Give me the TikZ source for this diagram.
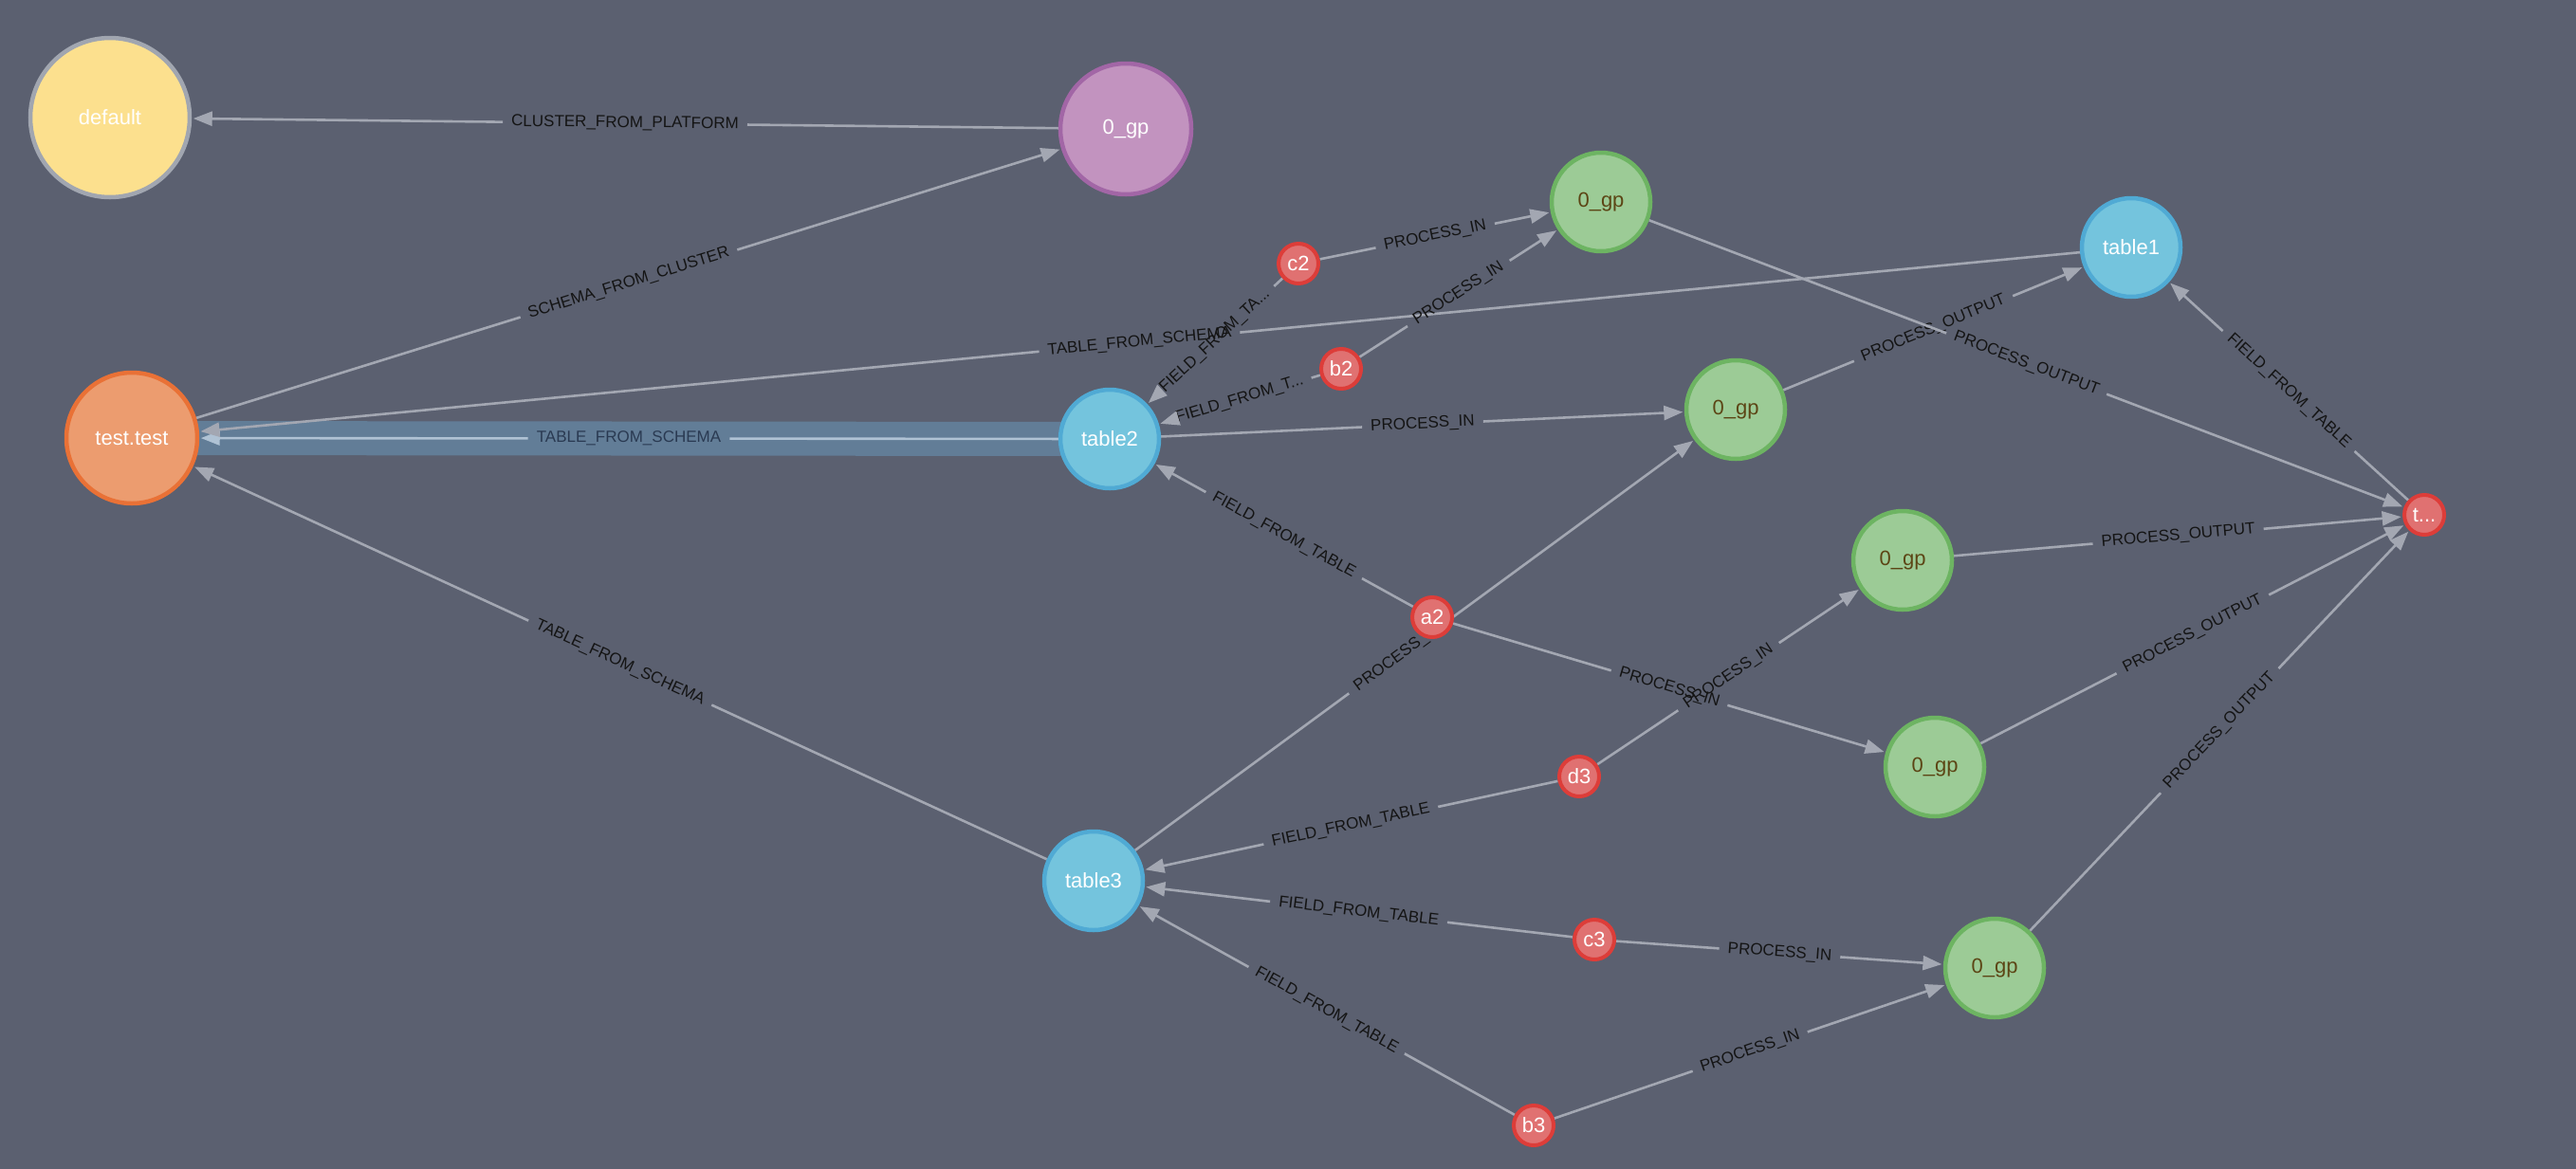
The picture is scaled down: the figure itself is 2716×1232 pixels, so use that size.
\documentclass[tikz,border=0pt]{standalone}
\usepackage{fontspec}
\setmainfont{Liberation Sans}
\usetikzlibrary{arrows.meta,calc}
\definecolor{bgc}{HTML}{5B6070}
\definecolor{edgec}{HTML}{A3A7B2}
\definecolor{lblc}{HTML}{141414}
\definecolor{defFill}{HTML}{FCE08E}
\definecolor{defDraw}{HTML}{A1A6B0}
\definecolor{clFill}{HTML}{C293BF}
\definecolor{clDraw}{HTML}{A266A6}
\definecolor{scFill}{HTML}{EC9C6F}
\definecolor{scDraw}{HTML}{E97136}
\definecolor{tbFill}{HTML}{74C4DD}
\definecolor{tbDraw}{HTML}{50AAD4}
\definecolor{prFill}{HTML}{9CCB96}
\definecolor{prDraw}{HTML}{6DB462}
\definecolor{prText}{HTML}{5C4515}
\definecolor{fdFill}{HTML}{E07171}
\definecolor{fdDraw}{HTML}{DD3D39}
\definecolor{hlBand}{HTML}{627D97}
\definecolor{hlLine}{HTML}{AFC2D4}
\definecolor{hlText}{HTML}{2A3A52}
\pgfdeclarelayer{bglayer}
\pgfdeclarelayer{edgelayer}
\pgfsetlayers{bglayer,edgelayer,main}
\tikzset{
  gnode/.style={circle, inner sep=0pt, line width=4.5pt, font=\fontsize{22}{24}\selectfont, text=white},
  defnode/.style={gnode, fill=defFill, draw=defDraw, minimum size=168pt},
  clnode/.style={gnode, fill=clFill, draw=clDraw, minimum size=138pt},
  scnode/.style={gnode, fill=scFill, draw=scDraw, minimum size=138pt},
  tbnode/.style={gnode, fill=tbFill, draw=tbDraw, minimum size=104pt},
  prnode/.style={gnode, fill=prFill, draw=prDraw, minimum size=104pt, text=prText},
  fdnode/.style={gnode, fill=fdFill, draw=fdDraw, minimum size=42pt, line width=4pt},
  elabel/.style={sloped, inner xsep=9pt, inner ysep=2pt, font=\fontsize{17}{19}\selectfont, text=lblc},
  eline/.style={draw=edgec, line width=2.6pt},
  etip/.style={-{Triangle[length=20pt,width=15pt]}, shorten >=1.5pt},
}
\newcommand\conn[5][0.5]{%
  \path (#2) -- node[elabel, pos=#1, name=#4] {#5} (#3);
  \draw[eline] (#2) -- (#4);
  \draw[eline, etip] (#4) -- (#3);
}
\begin{document}
\begin{tikzpicture}[x=1pt, y=-1pt]
\useasboundingbox (0,0) rectangle (2716,1232);
\begin{pgfonlayer}{bglayer}
  \fill[bgc] (-10,-10) rectangle (2726,1242);
\end{pgfonlayer}

% nodes
\node[defnode] (default) at (116,124) {default};
\node[clnode] (clus) at (1187,136) {0\_gp};
\node[scnode] (schema) at (139,462) {test.test};
\node[tbnode] (tbl1) at (2247,261) {table1};
\node[tbnode] (tbl2) at (1170,463) {table2};
\node[tbnode] (tbl3) at (1153,929) {table3};
\node[prnode] (p1) at (1688,213) {0\_gp};
\node[prnode] (p2) at (1830,432) {0\_gp};
\node[prnode] (p3) at (2006,591) {0\_gp};
\node[prnode] (p4) at (2040,809) {0\_gp};
\node[prnode] (p5) at (2103,1021) {0\_gp};
\node[fdnode] (fc2) at (1369,278) {c2};
\node[fdnode] (fb2) at (1414,389) {b2};
\node[fdnode] (fa2) at (1510,651) {a2};
\node[fdnode] (fd3) at (1665,819) {d3};
\node[fdnode] (fc3) at (1681,991) {c3};
\node[fdnode] (fb3) at (1617,1187) {b3};
\node[fdnode] (ft) at (2556,543) {t...};

\begin{pgfonlayer}{edgelayer}
  % highlighted edge
  \draw[hlBand, line width=36pt] (schema.center) -- (tbl2.center);
  \path (tbl2) -- node[elabel, text=hlText, name=l4] {TABLE\_FROM\_SCHEMA} (schema);
  \draw[eline, draw=hlLine] (tbl2) -- (l4);
  \draw[eline, draw=hlLine, etip] (l4) -- (schema);

  \conn{clus}{default}{l1}{CLUSTER\_FROM\_PLATFORM}
  \conn{schema}{clus}{l2}{SCHEMA\_FROM\_CLUSTER}
  \conn{tbl1}{schema}{l3}{TABLE\_FROM\_SCHEMA}
  \conn{tbl3}{schema}{l5}{TABLE\_FROM\_SCHEMA}
  \conn{fc2}{tbl2}{l6}{FIELD\_FROM\_TA...}
  \conn{fc2}{p1}{l7}{PROCESS\_IN}
  \conn{fb2}{tbl2}{l8}{FIELD\_FROM\_T...}
  \conn{fb2}{p1}{l9}{PROCESS\_IN}
  \conn{tbl2}{p2}{l10}{PROCESS\_IN}
  \conn[0.47]{tbl3}{p2}{l11}{PROCESS\_IN}
  \conn{p2}{tbl1}{l12}{PROCESS\_OUTPUT}
  \conn{p1}{ft}{l13}{PROCESS\_OUTPUT}
  \conn{ft}{tbl1}{l14}{FIELD\_FROM\_TABLE}
  \conn{fa2}{tbl2}{l15}{FIELD\_FROM\_TABLE}
  \conn{fa2}{p4}{l16}{PROCESS\_IN}
  \conn{fd3}{tbl3}{l17}{FIELD\_FROM\_TABLE}
  \conn{fd3}{p3}{l18}{PROCESS\_IN}
  \conn{fc3}{tbl3}{l19}{FIELD\_FROM\_TABLE}
  \conn{fc3}{p5}{l20}{PROCESS\_IN}
  \conn{fb3}{tbl3}{l21}{FIELD\_FROM\_TABLE}
  \conn{fb3}{p5}{l22}{PROCESS\_IN}
  \conn{p3}{ft}{l23}{PROCESS\_OUTPUT}
  \conn{p4}{ft}{l24}{PROCESS\_OUTPUT}
  \conn{p5}{ft}{l25}{PROCESS\_OUTPUT}
\end{pgfonlayer}
\end{tikzpicture}
\end{document}
